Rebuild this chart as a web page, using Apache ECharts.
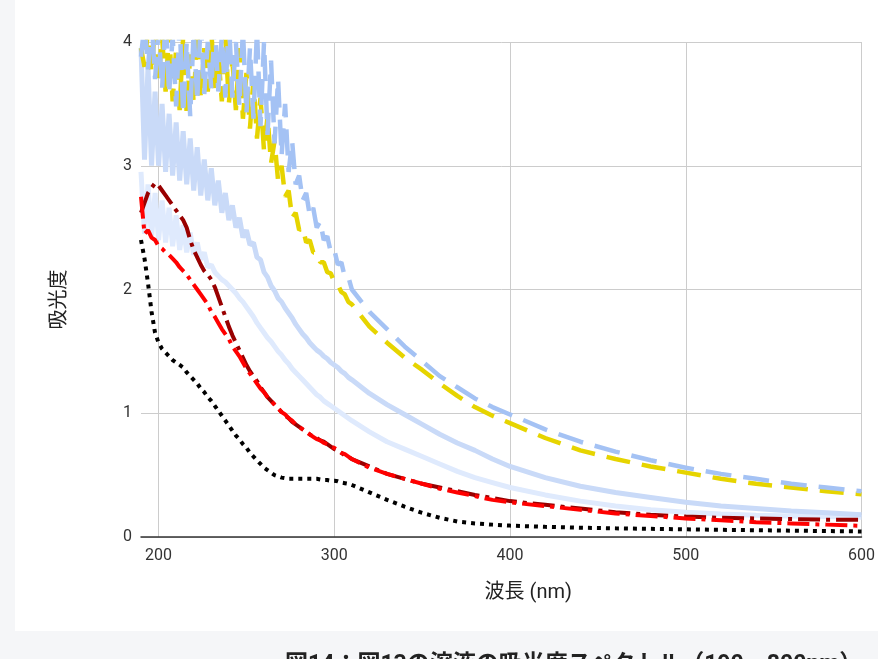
<!DOCTYPE html>
<html>
<head>
<meta charset="utf-8">
<script src="https://cdn.jsdelivr.net/npm/echarts@6/dist/echarts.min.js"></script>
<style>
  html, body { margin:0; padding:0; background:#f5f6f8; width:878px; height:659px; overflow:hidden; }
  .panel { position:absolute; left:15px; top:0; width:863px; height:631px; background:#fff; }
  #chart { position:absolute; left:0; top:0; width:878px; height:659px; }
  .caption { position:absolute; left:285px; top:652px; font-family:Roboto, "Noto Sans CJK JP"; font-weight:bold; font-size:23px; line-height:23px; color:#222; white-space:nowrap; }
</style>
</head>
<body>
<div class="panel"></div>
<div id="chart"></div>
<div class="caption">図14：図13の溶液の吸光度スペクトル（190～800nm）</div>
<script>
// 波長 (nm)
var wlFine = [190,192,194,196,198,200,202,204,206,208,210,212,214,216,218,220,222,224,226,228,
  230,232,234,236,238,240,242,244,246,248,250,252,254,256,258,260,262,264,266,268,
  270,272,274,276,278,280,282,284,286,288,290,292,294,296,298,300,302,304,306,308,310];
var wlTail = [320,330,340,350,360,370,380,390,400,420,440,460,480,500,520,540,560,580,600];
var wl = wlFine.concat(wlTail);

var xTicks = [200, 300, 400, 500, 600];

// 吸光度
var blueDash = [3.88,4.15,3.78,4.20,3.70,4.10,3.62,4.20,3.58,4.05,3.48,4.15,3.42,4.00,3.40,4.10,3.52,4.20,3.58,4.00,
  3.62,4.15,3.60,4.05,3.55,4.20,3.55,4.00,3.48,4.10,3.42,3.95,3.38,4.10,3.32,4.00,3.25,3.85,3.18,3.70,
  3.08,3.50,2.95,3.20,2.85,2.92,2.72,2.78,2.60,2.66,2.50,2.55,2.40,2.43,2.30,2.32,2.20,2.22,2.10,2.10,2.00,
  1.82,1.68,1.54,1.42,1.30,1.21,1.12,1.05,0.99,0.87,0.77,0.69,0.62,0.56,0.51,0.47,0.43,0.40,0.37];
var yellowDash = [3.95,3.80,4.10,3.75,4.15,3.68,4.05,3.60,4.10,3.52,3.95,3.45,4.05,3.42,3.90,3.50,4.10,3.55,3.95,3.60,
  4.10,3.58,3.90,3.52,4.05,3.50,3.85,3.45,3.95,3.38,3.75,3.30,3.70,3.22,3.55,3.12,3.40,3.02,3.20,2.88,
  3.00,2.75,2.80,2.58,2.62,2.48,2.50,2.38,2.40,2.30,2.30,2.22,2.22,2.14,2.13,2.06,2.04,1.98,1.96,1.90,1.88,
  1.70,1.57,1.45,1.35,1.24,1.14,1.05,0.98,0.92,0.80,0.70,0.63,0.57,0.52,0.47,0.43,0.40,0.37,0.345];
var lightBlue = [3.95,3.05,3.80,3.00,3.60,3.00,3.50,2.95,3.42,2.92,3.35,2.88,3.28,2.85,3.22,2.80,3.15,2.76,3.05,2.72,
  2.98,2.68,2.88,2.62,2.78,2.56,2.68,2.50,2.58,2.42,2.48,2.36,2.38,2.26,2.24,2.14,2.10,2.03,1.99,1.93,
  1.90,1.85,1.81,1.77,1.72,1.68,1.64,1.61,1.57,1.54,1.51,1.49,1.46,1.44,1.41,1.39,1.37,1.34,1.32,1.29,1.27,
  1.16,1.07,0.99,0.91,0.83,0.76,0.70,0.63,0.57,0.48,0.41,0.36,0.32,0.28,0.25,0.23,0.21,0.195,0.18];
var paleBlue = [2.95,2.45,2.85,2.42,2.78,2.40,2.72,2.38,2.66,2.35,2.60,2.32,2.52,2.30,2.46,2.28,2.38,2.24,2.30,2.18,
  2.20,2.14,2.11,2.08,2.06,2.03,2.00,1.97,1.93,1.90,1.86,1.82,1.78,1.73,1.69,1.65,1.61,1.58,1.54,1.50,
  1.47,1.43,1.40,1.36,1.33,1.30,1.27,1.24,1.21,1.18,1.15,1.13,1.10,1.08,1.06,1.04,1.02,1.00,0.98,0.96,0.94,
  0.85,0.77,0.71,0.65,0.59,0.53,0.48,0.44,0.40,0.34,0.29,0.25,0.22,0.20,0.185,0.175,0.17,0.165,0.16];
var darkRed = [2.62,2.70,2.78,2.82,2.86,2.84,2.80,2.76,2.72,2.68,2.64,2.60,2.56,2.50,2.40,2.32,2.26,2.20,2.15,2.12,
  2.08,2.02,1.94,1.86,1.78,1.70,1.63,1.57,1.51,1.45,1.39,1.34,1.30,1.26,1.21,1.17,1.13,1.10,1.07,1.04,
  1.01,0.98,0.96,0.93,0.91,0.89,0.87,0.85,0.83,0.81,0.80,0.78,0.77,0.75,0.73,0.71,0.70,0.68,0.66,0.65,0.63,
  0.57,0.51,0.47,0.43,0.40,0.37,0.34,0.315,0.29,0.26,0.23,0.20,0.18,0.165,0.155,0.15,0.145,0.14,0.14];
var red = [2.75,2.45,2.48,2.42,2.40,2.35,2.33,2.30,2.28,2.25,2.22,2.18,2.15,2.12,2.08,2.04,2.00,1.96,1.92,1.88,
  1.82,1.78,1.73,1.68,1.64,1.60,1.54,1.50,1.46,1.41,1.36,1.32,1.28,1.24,1.20,1.17,1.13,1.10,1.07,1.04,
  1.01,0.99,0.96,0.94,0.91,0.89,0.87,0.85,0.83,0.81,0.79,0.78,0.76,0.75,0.73,0.72,0.70,0.68,0.67,0.65,0.63,
  0.56,0.51,0.47,0.43,0.39,0.36,0.33,0.30,0.28,0.25,0.22,0.19,0.17,0.15,0.135,0.12,0.11,0.10,0.09];
var blackDot = [2.40,2.25,2.05,1.82,1.65,1.57,1.52,1.49,1.46,1.43,1.41,1.39,1.37,1.33,1.30,1.27,1.24,1.20,1.17,1.13,
  1.10,1.06,1.02,0.98,0.94,0.90,0.86,0.82,0.79,0.75,0.72,0.68,0.65,0.62,0.59,0.56,0.54,0.52,0.50,0.49,
  0.48,0.475,0.47,0.47,0.47,0.47,0.47,0.47,0.47,0.47,0.47,0.465,0.46,0.46,0.455,0.455,0.45,0.44,0.435,0.43,0.42,
  0.36,0.30,0.245,0.195,0.155,0.125,0.11,0.10,0.092,0.082,0.075,0.07,0.066,0.062,0.058,0.055,0.051,0.048,0.045];

function pairs(ys) {
  return wl.map(function (x, i) { return [x, ys[i]]; });
}
function line(data, color, width, type) {
  return {
    type: 'line',
    data: pairs(data),
    symbol: 'none',
    clip: true,
    lineStyle: { color: color, width: width, type: type, cap: 'butt' }
  };
}

var chart = echarts.init(document.getElementById('chart'));
var font = 'Roboto, "Noto Sans CJK JP", sans-serif';
chart.setOption({
  backgroundColor: 'transparent',
  animation: false,
  grid: { left: 141, right: 16, top: 42, bottom: 122 },
  xAxis: {
    type: 'value', min: 190, max: 600,
    name: '波長 (nm)', nameLocation: 'middle', nameGap: 46,
    nameTextStyle: { fontSize: 20, color: '#222', fontFamily: font, padding: [0, 0, 0, 54] },
    axisLine: { show: true, lineStyle: { color: '#333', width: 1.5 } },
    axisTick: { show: false, customValues: xTicks },
    axisLabel: { customValues: xTicks, fontSize: 16, color: '#333', margin: 11, fontFamily: font },
    splitLine: { show: true, lineStyle: { color: '#cccccc', width: 1 } }
  },
  yAxis: {
    type: 'value', min: 0, max: 4, interval: 1,
    name: '吸光度', nameLocation: 'middle', nameGap: 71,
    nameTextStyle: { fontSize: 20, color: '#222', fontFamily: font, padding: [0, 20, 0, 0] },
    axisLine: { show: false },
    axisTick: { show: false },
    axisLabel: { fontSize: 16, color: '#333', margin: 9, fontFamily: font },
    splitLine: { show: true, lineStyle: { color: '#cccccc', width: 1 } }
  },
  series: [
    line(paleBlue, '#dfeafd', 5, 'solid'),
    line(lightBlue, '#c9daf8', 5, 'solid'),
    line(yellowDash, '#e6d400', 4.5, [24, 12]),
    line(blueDash, '#a4c2f4', 4.5, [26, 12]),
    line(darkRed, '#990000', 4, [22, 6, 4, 6]),
    line(red, '#ff0000', 4, [22, 6, 4, 6]),
    line(blackDot, '#000000', 4, [4, 5])
  ]
});
</script>
</body>
</html>
